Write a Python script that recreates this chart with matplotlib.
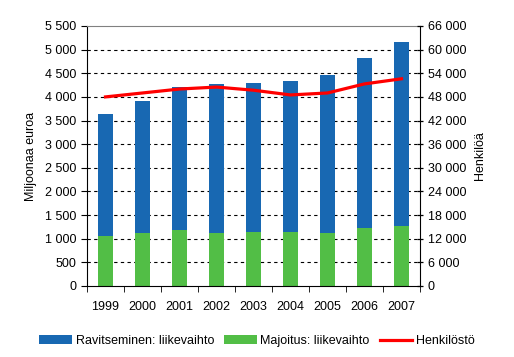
import numpy as np
import matplotlib
matplotlib.use("Agg")
import matplotlib.pyplot as plt

years = ["1999", "2000", "2001", "2002", "2003", "2004", "2005", "2006", "2007"]
majoitus = [1065, 1128, 1190, 1128, 1150, 1150, 1128, 1233, 1276]
total = [3640, 3915, 4205, 4265, 4295, 4335, 4465, 4825, 5160]
ravitseminen = [t - m for t, m in zip(total, majoitus)]
henkilosto = [48000, 49000, 50000, 50500, 49700, 48500, 49000, 51300, 52600]

_BLUE, _GREEN, _RED = "#1868b2", "#52be46", "#ff0000"

plt.rcParams.update({"font.family": "Liberation Sans", "font.size": 9})

fig = plt.figure(figsize=(5.14, 3.57), dpi=100)
ax = fig.add_axes([87 / 514, 1 - 286 / 357, 333 / 514, 260 / 357])
x = np.arange(len(years))
w = 0.41
ax.bar(x, majoitus, w, color=_GREEN, label="Majoitus: liikevaihto", zorder=2)
ax.bar(x, ravitseminen, w, bottom=majoitus, color=_BLUE,
       label="Ravitseminen: liikevaihto", zorder=2)
ax.set_xlim(-0.5, len(years) - 0.5)
ax.set_ylim(0, 5500)
yt = np.arange(0, 5501, 500)
ax.set_yticks(yt)
ax.set_yticklabels([f"{v:,}".replace(",", " ") for v in yt])
for v in yt[1:-1]:
    ax.axhline(v, color="black", lw=0.8, ls=(0, (3, 3)), zorder=1)
ax.set_xticks(x)
ax.set_xticklabels(years)
ax.set_xticks(np.arange(-0.5, len(years)), minor=True)
ax.tick_params(axis="x", which="major", length=0, pad=11)
ax.tick_params(axis="x", which="minor", length=4, direction="out", color="black")
ax.tick_params(axis="y", length=4, direction="out")
ax.spines["top"].set_color("#808080")
ax.spines["right"].set_visible(False)
ax.set_ylabel("Miljoonaa euroa", labelpad=6)

ax2 = ax.twinx()
ax2.plot(x, henkilosto, color=_RED, lw=2.3, label="Henkilöstö", zorder=3)
ax2.set_ylim(0, 66000)
yt2 = np.arange(0, 66001, 6000)
ax2.set_yticks(yt2)
ax2.set_yticklabels([f"{v:,}".replace(",", " ") for v in yt2])
ax2.tick_params(axis="y", length=4, direction="inout", width=0.9)
for s in ["top", "left", "bottom"]:
    ax2.spines[s].set_visible(False)
ax2.set_ylabel("Henkilöä", labelpad=6)

h1, l1 = ax.get_legend_handles_labels()
h2, l2 = ax2.get_legend_handles_labels()
handles = [h1[1], h1[0], h2[0]]
labels = [l1[1], l1[0], l2[0]]
fig.legend(handles, labels, loc="center", bbox_to_anchor=(0.5, 1 - 341 / 357),
           ncol=3, frameon=False, handlelength=2.6, handletextpad=0.3,
           columnspacing=0.8, fontsize=9)

fig.savefig("out.png", dpi=100)
